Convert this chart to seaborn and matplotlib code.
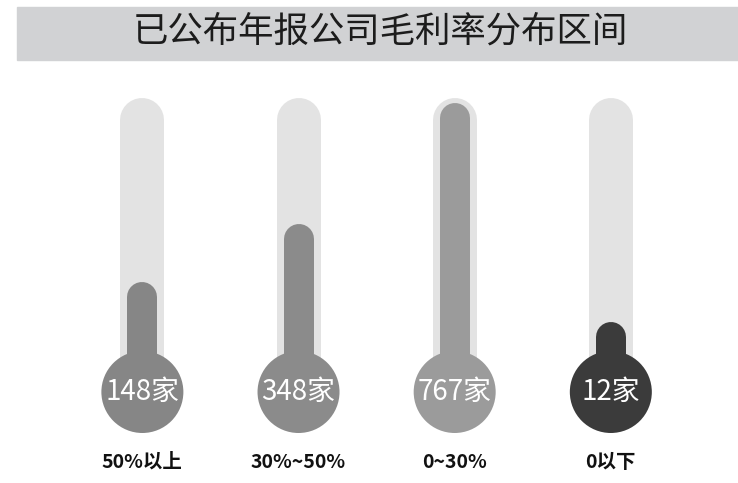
import numpy as np
import matplotlib
matplotlib.use("Agg")
import matplotlib.pyplot as plt
import seaborn as sns

# data
categories = ["50%以上", "30%~50%", "0~30%", "0以下"]
companies = [148, 348, 767, 12]
fill_colors = ["#868686", "#8b8b8b", "#9b9b9b", "#3b3b3b"]
title = "已公布年报公司毛利率分布区间"

sns.set_theme(style="white")
plt.rcParams["font.family"] = ["Noto Sans CJK SC", "DejaVu Sans"]

W, H, DPI = 738, 483, 100
PX0 = 325.0      # pixel row of value 0
K = 0.29         # pixels per company
TUBE_MAX = 783   # top of the glass tube, in companies
BULB_Y = (PX0 - 392) / K
LABEL_Y = (PX0 - 462) / K

fig = plt.figure(figsize=(W / DPI, H / DPI), dpi=DPI)
fig.patch.set_facecolor("white")

# title bar
fig.patches.append(plt.Rectangle((17 / W, 1 - 60 / H), 1 - 17 / W, 53 / H,
                                 transform=fig.transFigure, color="#d1d2d4", zorder=0))
fig.text(0.516, 1 - 32 / H, title, ha="center", va="center",
         fontsize=25.5, color="#1c1c1c")

ax = fig.add_axes([64.3 / W, 0, 624.6 / W, 1])
ax.set_facecolor("none")

# bulbs
sns.scatterplot(x=categories, y=[BULB_Y] * len(categories), hue=categories,
                palette=fill_colors, s=(82 * 72 / DPI) ** 2, linewidth=0,
                legend=False, ax=ax, zorder=3)

# glass tube and mercury column, round caps
tube_w, fill_w = 44, 30
tube_r = tube_w / 2 / K
fill_r = fill_w / 2 / K
ax.vlines(categories, BULB_Y, TUBE_MAX - tube_r, colors="#e3e3e3",
          linewidth=tube_w * 72 / DPI, capstyle="round", zorder=1)
ax.vlines(categories, BULB_Y, np.array(companies) - fill_r, colors=fill_colors,
          linewidth=fill_w * 72 / DPI, capstyle="round", zorder=2)

for i, (cat, n) in enumerate(zip(categories, companies)):
    ax.text(i, BULB_Y, f"{n}家", ha="center", va="center", color="white",
            fontsize=20, zorder=4)
    ax.text(i, LABEL_Y, cat, ha="center", va="center", color="#111111",
            fontsize=14, fontweight="bold", zorder=4)

ax.set_xlim(-0.5, 3.5)
ax.set_ylim((PX0 - H) / K, PX0 / K)
ax.set_axis_off()

fig.savefig("out.png", dpi=DPI)
